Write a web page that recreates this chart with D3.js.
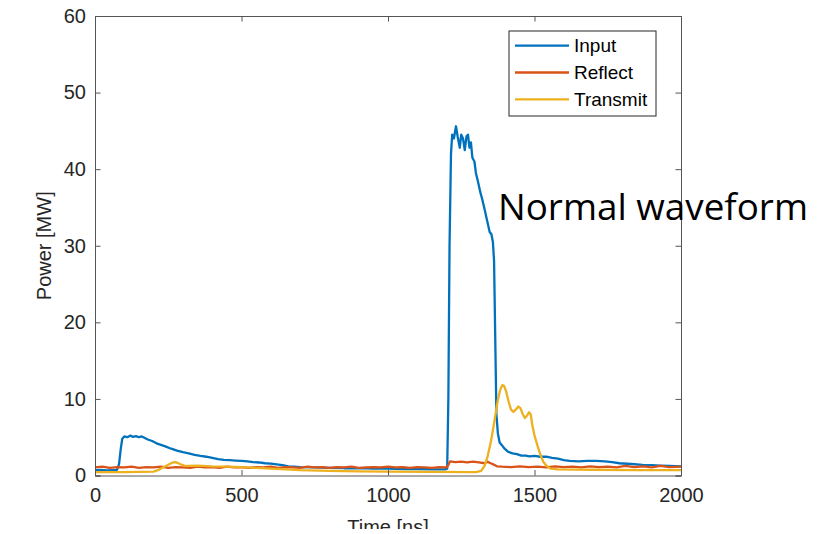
<!DOCTYPE html>
<html><head><meta charset="utf-8">
<script src="https://cdn.jsdelivr.net/npm/d3@7"></script>
<style>body{margin:0;background:#fff}svg{display:block}</style>
</head><body>
<script>
const xTicks = [0, 500, 1000, 1500, 2000];
const yTicks = [0, 10, 20, 30, 40, 50, 60];
const seriesNames = ["Input", "Reflect", "Transmit"];

const inputTime = [0,20,40,60,75,82,88,93,100,110,120,130,140,150,160,170,180,195,210,225,240,260,280,300,320,340,360,380,400,420,440,460,480,500,520,540,560,580,600,620,640,660,680,700,750,800,850,900,950,1000,1050,1100,1150,1195,1202,1206,1210,1215,1219,1225,1232,1238,1245,1250,1256,1262,1268,1273,1278,1283,1288,1295,1300,1307,1315,1322,1330,1337,1347,1353,1358,1362,1366,1370,1375,1381,1390,1398,1410,1425,1440,1455,1470,1483,1500,1520,1540,1560,1580,1600,1620,1650,1680,1711,1740,1765,1790,1830,1869,1900,1930,1960,2000];
const inputPower = [0.7,0.72,0.68,0.7,0.72,1.5,3.5,4.8,5.1,5.0,5.2,5.05,5.15,5.0,5.1,4.9,4.7,4.5,4.2,4.0,3.8,3.5,3.25,3.05,2.9,2.7,2.55,2.45,2.3,2.15,2.05,2.0,1.95,1.9,1.85,1.75,1.7,1.6,1.55,1.45,1.35,1.2,1.15,1.1,1.05,1.0,0.95,0.95,0.9,0.9,0.85,0.85,0.8,0.8,0.9,10,30,42,44.5,44,45.6,44.2,42.8,44.5,44,42.5,44.3,44.5,42.8,43.5,41.5,41,39.5,38.4,37,36,34.7,33.5,31.8,31.5,30.5,28,18,8,5.5,4.3,3.9,3.5,3.1,2.9,2.8,2.6,2.6,2.5,2.55,2.45,2.45,2.3,2.2,2.0,1.9,1.85,1.9,1.9,1.85,1.75,1.6,1.5,1.4,1.35,1.3,1.25,1.2];

const reflectTime = [0,25,50,75,100,125,150,175,200,225,250,275,300,325,350,375,400,425,450,475,500,525,550,575,600,625,650,675,700,725,750,775,800,825,850,875,900,925,950,975,1000,1025,1050,1075,1100,1125,1150,1175,1200,1205,1212,1230,1250,1270,1290,1310,1330,1340,1350,1360,1372,1390,1420,1450,1480,1510,1540,1570,1600,1630,1660,1690,1720,1750,1780,1810,1840,1870,1900,1930,1960,2000];
const reflectPower = [1.05,1.15,1.0,1.1,1.05,1.15,1.0,1.1,1.05,1.15,1.0,1.1,1.05,1.0,1.15,1.05,1.1,1.0,1.15,1.05,1.1,1.0,1.1,1.05,1.15,1.0,1.1,1.05,1.0,1.15,1.05,1.1,1.0,1.1,1.05,1.15,1.0,1.05,1.1,1.05,1.15,1.05,1.1,1.0,1.1,1.05,1.0,1.1,1.05,1.3,1.85,1.75,1.8,1.7,1.8,1.7,1.6,1.8,1.6,1.45,1.2,1.15,1.1,1.2,1.1,1.15,1.05,1.2,1.1,1.15,1.05,1.2,1.1,1.15,1.05,1.25,1.1,1.2,1.05,1.25,1.1,1.15];

const transmitTime = [0,100,200,215,230,250,265,275,290,305,320,350,400,450,500,550,600,650,700,800,900,1000,1300,1318,1330,1340,1350,1358,1367,1375,1383,1390,1396,1403,1412,1420,1428,1436,1445,1452,1460,1467,1474,1481,1487,1493,1500,1511,1520,1530,1540,1555,1580,1700,1850,2000];
const transmitPower = [0.45,0.45,0.5,0.7,1.0,1.4,1.7,1.75,1.5,1.3,1.25,1.3,1.2,1.15,1.1,1.0,0.9,0.8,0.7,0.6,0.55,0.5,0.45,0.6,1.3,2.5,4.2,5.9,8,9.9,11.2,11.8,11.7,11,9.6,8.6,8.3,8.6,9.0,8.8,8.0,7.5,7.8,8.25,8.0,6.5,5.2,3.8,2.7,1.8,1.3,0.9,0.8,0.75,0.7,0.7];

const colors = ["#0072BD", "#D95319", "#EDB120"];

const W = 828, H = 534;
const L = 95, R = 681, T = 16, B = 475.5;
const svg = d3.select("body").append("svg").attr("width", W).attr("height", H);

const x = d3.scaleLinear().domain([0, 2000]).range([L, R]);
const y = d3.scaleLinear().domain([0, 60]).range([B, T]);

const axisColor = "#262626";
const font = "'Liberation Sans', Arial, Helvetica, sans-serif";

// lines
const series = [
  {t: inputTime, p: inputPower},
  {t: reflectTime, p: reflectPower},
  {t: transmitTime, p: transmitPower}
];
const line = d3.line().x(d => x(d[0])).y(d => y(d[1]));
const g = svg.append("g");
// draw order: input, reflect, transmit (transmit on top)
series.forEach((s, i) => {
  const pts = s.t.map((t, k) => [t, s.p[k]]);
  g.append("path").datum(pts).attr("d", line)
    .attr("fill", "none").attr("stroke", colors[i]).attr("stroke-width", 2.3)
    .attr("stroke-linejoin", "round");
});

// axes
const tickLen = 5.5;
const xAxisB = d3.axisBottom(x).tickValues(xTicks).tickSize(-tickLen).tickPadding(12).tickFormat(d3.format("d"));
const xAxisT = d3.axisTop(x).tickValues(xTicks).tickSize(-tickLen).tickFormat("");
const yAxisL = d3.axisLeft(y).tickValues(yTicks).tickSize(-tickLen).tickPadding(9).tickFormat(d3.format("d"));
const yAxisR = d3.axisRight(y).tickValues(yTicks).tickSize(-tickLen).tickFormat("");

function style(sel) {
  sel.selectAll("path.domain").attr("stroke", "#555").attr("stroke-width", 1);
  sel.selectAll(".tick line").attr("stroke", "#555").attr("stroke-width", 1);
  sel.selectAll(".tick text").attr("fill", axisColor).style("font-family", font).style("font-size", "20px");
}
svg.append("g").attr("transform", `translate(0,${B})`).call(xAxisB).call(style);
svg.append("g").attr("transform", `translate(0,${T})`).call(xAxisT).call(style);
svg.append("g").attr("transform", `translate(${L},0)`).call(yAxisL).call(style);
svg.append("g").attr("transform", `translate(${R},0)`).call(yAxisR).call(style);
svg.selectAll(".domain").attr("d", function() { return d3.select(this).attr("d").replace(/V[-\d.]+/g, m => m).replace(/([MH])/g, "$1"); });

// axis labels
svg.append("text").attr("x", (L + R) / 2).attr("y", 534)
  .attr("text-anchor", "middle").attr("fill", axisColor)
  .style("font-family", font).style("font-size", "20px").text("Time [ns]");
svg.append("rect").attr("x", 0).attr("y", 529).attr("width", W).attr("height", 10).attr("fill", "#fff");

svg.append("text").attr("transform", `translate(51,${(T + B) / 2}) rotate(-90)`)
  .attr("text-anchor", "middle").attr("fill", axisColor)
  .style("font-family", font).style("font-size", "20px").text("Power [MW]");

// legend
const lg = svg.append("g");
lg.append("rect").attr("x", 509).attr("y", 31).attr("width", 147).attr("height", 85)
  .attr("fill", "#fff").attr("stroke", "#262626").attr("stroke-width", 1);
seriesNames.forEach((n, i) => {
  const yy = 45.7 + i * 26.8;
  lg.append("line").attr("x1", 515).attr("x2", 569).attr("y1", yy).attr("y2", yy)
    .attr("stroke", colors[i]).attr("stroke-width", 2.3);
  lg.append("text").attr("x", 574).attr("y", yy + 6.5).attr("fill", "#000")
    .style("font-family", font).style("font-size", "19px").text(n);
});

// annotation
svg.append("text").attr("x", 498).attr("y", 220).attr("fill", "#000")
  .attr("textLength", 310).attr("lengthAdjust", "spacingAndGlyphs")
  .style("font-family", "'Open Sans', 'Noto Sans', sans-serif").style("font-size", "36px")
  .text("Normal waveform");
</script>
</body></html>
